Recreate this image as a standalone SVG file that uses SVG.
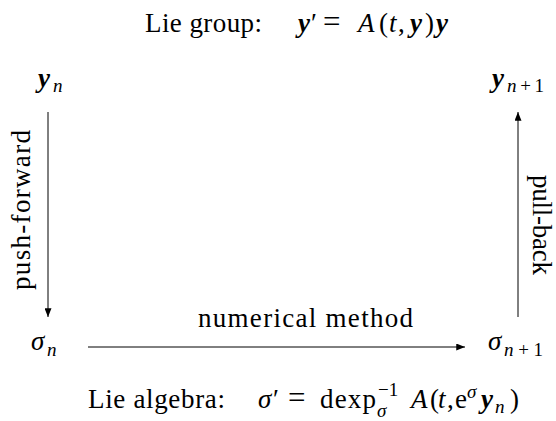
<svg xmlns="http://www.w3.org/2000/svg" width="556" height="421" viewBox="0 0 556 421">
<style>
text{font-family:'Liberation Serif','Times New Roman',serif;font-size:27px;fill:#000}
.i{font-style:italic}
.bi{font-style:italic;font-weight:bold}
.s{font-size:19px}
.eq{font-size:31px}
.ln{stroke:#000;stroke-width:1;fill:none}
</style>
<defs>
<marker id="ah" viewBox="0 0 10 8" refX="10" refY="4" markerWidth="9" markerHeight="7" markerUnits="userSpaceOnUse" orient="auto">
<path d="M0,0 L10,4 L0,8 Z" fill="#000"/>
</marker>
</defs>
<rect width="556" height="421" fill="#fff"/>
<g id="title"><text y="32"><tspan x="145" textLength="117" lengthAdjust="spacing">Lie group:</tspan><tspan x="298" class="bi">y</tspan><tspan x="311">′</tspan><tspan x="323" class="eq">=</tspan><tspan x="358" class="i">A</tspan><tspan x="379">(</tspan><tspan x="389" class="i">t</tspan><tspan x="398">,</tspan><tspan x="410" class="bi">y</tspan><tspan x="425">)</tspan><tspan x="436" class="bi">y</tspan></text></g>
<g id="yn"><text><tspan x="38" y="87" class="bi">y</tspan><tspan x="53" y="92" class="i s">n</tspan></text></g>
<g id="yn1"><text><tspan x="492" y="87" class="bi">y</tspan><tspan x="507" y="92" class="s" textLength="37" lengthAdjust="spacing"><tspan class="i">n</tspan>+1</tspan></text></g>
<g id="sn"><text><tspan x="31" y="350" class="i">σ</tspan><tspan x="47" y="356" class="i s">n</tspan></text></g>
<g id="sn1"><text><tspan x="488" y="350" class="i">σ</tspan><tspan x="504" y="356" class="s" textLength="39" lengthAdjust="spacing"><tspan class="i">n</tspan>+1</tspan></text></g>
<g id="connectors">
<line class="ln" x1="48" y1="112" x2="48" y2="317" marker-end="url(#ah)"/>
<line class="ln" x1="518" y1="317" x2="518" y2="112" marker-end="url(#ah)"/>
<line class="ln" x1="88" y1="347" x2="465" y2="347" marker-end="url(#ah)"/>
<text transform="translate(30,210) rotate(-90)" text-anchor="middle" textLength="160" lengthAdjust="spacing">push-forward</text>
<text transform="translate(533,225) rotate(90)" text-anchor="middle" textLength="100" lengthAdjust="spacing">pull-back</text>
<text x="198" y="327" textLength="215" lengthAdjust="spacing">numerical method</text>
</g>
<g id="footer"><text y="408"><tspan x="88" textLength="137" lengthAdjust="spacing">Lie algebra:</tspan><tspan x="258" class="i">σ</tspan><tspan x="273">′</tspan><tspan x="288" class="eq">=</tspan><tspan x="320" textLength="56" lengthAdjust="spacing">dexp</tspan><tspan x="377" y="417" class="i s">σ</tspan><tspan x="378" y="396" class="s">−1</tspan><tspan x="411" y="408" class="i">A</tspan><tspan x="430">(</tspan><tspan x="438" class="i">t</tspan><tspan x="447">,</tspan><tspan x="455">e</tspan><tspan x="467" y="398" class="i s">σ</tspan><tspan x="481" y="408" class="bi">y</tspan><tspan x="495" y="413" class="i s">n</tspan><tspan x="510" y="408">)</tspan></text></g>
</svg>
